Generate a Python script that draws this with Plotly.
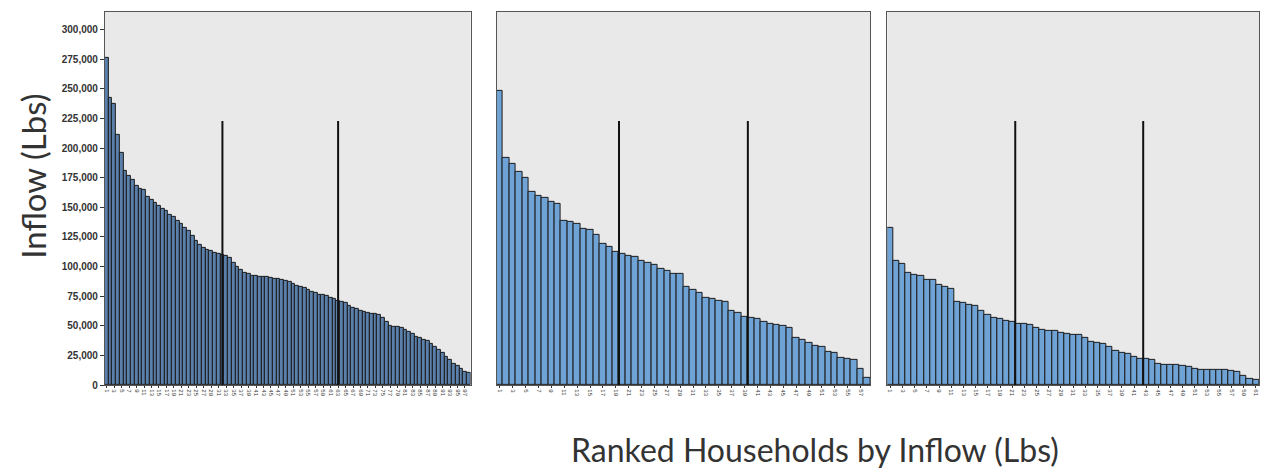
import plotly.graph_objects as go

# Household inflow (Lbs), sorted from largest to smallest, for each of the three groups
inflow_a = [
    276000, 242000, 237000, 211000, 196000, 181000, 177000, 173000, 168000, 166000,
    165000, 159000, 156000, 154000, 151000, 149000, 147000, 144000, 142000, 139000,
    136000, 133000, 130000, 126000, 122000, 118000, 116000, 114000, 113000, 112000,
    111000, 110000, 109000, 107000, 103000, 100000, 97000, 95000, 94000, 92500,
    92000, 91500, 91000, 91000, 90500, 90000, 89500, 89000, 88000, 87000,
    85500, 84000, 83000, 82000, 80500, 79000, 77500, 76500, 76000, 75000,
    74000, 73000, 71500, 70000, 69000, 67000, 65500, 64000, 63000, 62000,
    61000, 60500, 60000, 59000, 56500, 53000, 50000, 49500, 49000, 48000,
    47000, 45000, 43000, 41000, 40000, 38500, 37500, 35000, 32000, 30000,
    27000, 23500, 21000, 18000, 16000, 14000, 11500, 10000,
]
inflow_b = [
    248000, 192000, 187000, 180000, 175000, 163000, 160000, 158000, 155000, 153000,
    139000, 138000, 136000, 131500, 131000, 126500, 119000, 116500, 112500, 110500,
    109000, 108000, 105000, 103000, 101500, 98500, 96500, 94000, 94000, 83000,
    80000, 77500, 73500, 72500, 71500, 70000, 63000, 61000, 58000, 57000,
    55500, 53500, 51500, 51000, 50000, 48000, 40000, 38000, 35500, 33500,
    32000, 28000, 27500, 23000, 22500, 21000, 14000, 6000,
]
inflow_c = [
    132500, 105000, 102500, 95000, 93000, 92500, 89000, 88500, 85000, 83000,
    81000, 70000, 69000, 68000, 66500, 62500, 59000, 57000, 56000, 54000,
    53000, 52000, 51500, 50500, 48500, 46500, 46000, 45500, 44500, 43000,
    42500, 42000, 39500, 36500, 36000, 35000, 32000, 29000, 27500, 26000,
    24000, 22500, 22000, 21000, 18000, 17500, 17500, 17500, 16500, 15000,
    14000, 13000, 13000, 12500, 12500, 12500, 12000, 11000, 8000, 5000, 4000,
]

# Tercile cut positions (in rank units) and the height of the marker lines
cuts_a = [31.0, 62.0]
cuts_b = [18.5, 38.5]
cuts_c = [20.5, 41.5]
cut_height = 223000

y_ticks = [0, 25000, 50000, 75000, 100000, 125000, 150000, 175000,
           200000, 225000, 250000, 275000, 300000]

# (values, cut lines, horizontal domain, bar fill)
panels = [
    (inflow_a, cuts_a, [0.0823, 0.3721], "#5a80ab"),
    (inflow_b, cuts_b, [0.3927, 0.6888], "#6fa3d6"),
    (inflow_c, cuts_c, [0.7023, 0.9968], "#6fa3d6"),
]

BAR_EDGE = "#1c1c1c"
FRAME = "#555555"
PLOT_BG = "#e9e9e9"

fig = go.Figure()
layout = dict(
    width=1263, height=475,
    margin=dict(l=0, r=0, t=0, b=0),
    paper_bgcolor="white",
    plot_bgcolor=PLOT_BG,
    bargap=0,
    showlegend=False,
)

for k, (vals, cuts, dom, fill) in enumerate(panels):
    n = len(vals)
    idx = list(range(n))
    ranks = [str(i + 1) for i in idx]
    sfx = "" if k == 0 else str(k + 1)
    xa, ya = "x" + sfx, "y" + sfx

    fig.add_trace(go.Bar(
        x=idx, y=vals, xaxis=xa, yaxis=ya,
        marker=dict(color=fill, line=dict(color=BAR_EDGE, width=1)),
    ))
    for c in cuts:
        fig.add_trace(go.Scatter(
            x=[c, c], y=[0, cut_height], xaxis=xa, yaxis=ya,
            mode="lines", line=dict(color="#111111", width=2),
            hoverinfo="skip",
        ))

    layout["xaxis" + sfx] = dict(
        domain=dom, range=[-0.5, n - 0.5], anchor=ya,
        tickmode="array", tickvals=idx[::2], ticktext=ranks[::2],
        tickangle=90, tickfont=dict(size=6, color="#333", family="Liberation Sans"),
        ticks="outside", ticklen=2, tickcolor="#333",
        showline=True, linecolor=FRAME, linewidth=1, mirror=True,
        showgrid=False, zeroline=False,
    )
    layout["yaxis" + sfx] = dict(
        domain=[0.1789, 0.9747], range=[0, 315000], anchor=xa,
        tickmode="array", tickvals=y_ticks,
        tickformat=",", showticklabels=(k == 0),
        tickfont=dict(size=10, color="#333", family="Liberation Sans", weight="bold"),
        ticks="outside" if k == 0 else "", ticklen=4, tickcolor="#333",
        showline=True, linecolor=FRAME, linewidth=1, mirror=True,
        showgrid=False, zeroline=False,
    )

# axis titles, placed in pixel coordinates and converted to paper fractions
titles = [
    ("Inflow (Lbs)", 32, 178, -90, 33),
    ("Ranked Households by Inflow (Lbs)", 815, 455, 0, 32),
]
layout["annotations"] = [
    dict(text=t, textangle=ang, x=px / 1263, y=1 - py / 475,
         xref="paper", yref="paper", xanchor="center", yanchor="middle",
         showarrow=False, font=dict(size=sz, family="Lato", color="#333"))
    for t, px, py, ang, sz in titles
]

fig.update_layout(**layout)
fig.write_html("out.html")
